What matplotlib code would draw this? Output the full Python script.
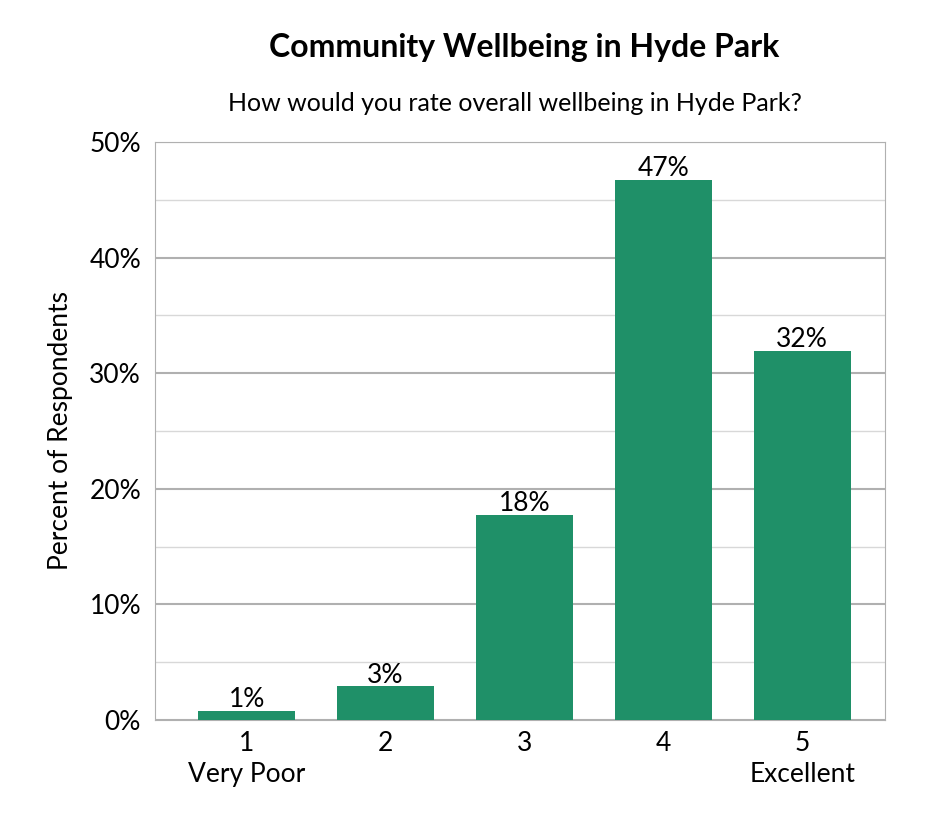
import matplotlib
matplotlib.use("Agg")
import matplotlib.pyplot as plt
from matplotlib.ticker import MultipleLocator, FuncFormatter

plt.rcParams['font.family'] = ['Lato', 'DejaVu Sans']

categories = ["1\nVery Poor", "2", "3", "4", "5\nExcellent"]
values = [0.8, 2.9, 17.7, 46.7, 31.9]
labels = ["1%", "3%", "18%", "47%", "32%"]

fig = plt.figure(figsize=(9.45, 8.4), dpi=100)
ax = fig.add_axes([0.164, 0.143, 0.773, 0.688])
x = range(len(values))
ax.bar(x, values, width=0.7, color="#1f9068", zorder=3)
for xi, v, l in zip(x, values, labels):
    ax.text(xi, v - 0.1, l, ha="center", va="bottom", fontsize=19, zorder=4)
ax.set_xlim(-0.66, 4.6)
ax.set_ylim(0, 50)
ax.yaxis.set_major_locator(MultipleLocator(10))
ax.yaxis.set_minor_locator(MultipleLocator(5))
ax.yaxis.set_major_formatter(FuncFormatter(lambda v, p: f"{v:.0f}%"))
ax.grid(which="major", axis="y", color="#b0b0b0", linewidth=1.5, zorder=0)
ax.grid(which="minor", axis="y", color="#d8d8d8", linewidth=1, zorder=0)
ax.tick_params(axis="y", which="both", length=0, labelsize=19, pad=10)
ax.tick_params(axis="x", length=0, labelsize=19, pad=8)
ax.set_xticks(list(x))
ax.set_xticklabels(categories, linespacing=1.3)
for s in ax.spines.values():
    s.set_color("#b0b0b0")
ax.set_ylabel("Percent of Respondents", fontsize=19, labelpad=12)
fig.text(0.555, 0.943, "Community Wellbeing in Hyde Park", ha="center", va="center", fontsize=23, fontweight="bold")
fig.text(0.545, 0.877, "How would you rate overall wellbeing in Hyde Park?", ha="center", va="center", fontsize=18)
fig.savefig("out.png", dpi=100, facecolor="white")
